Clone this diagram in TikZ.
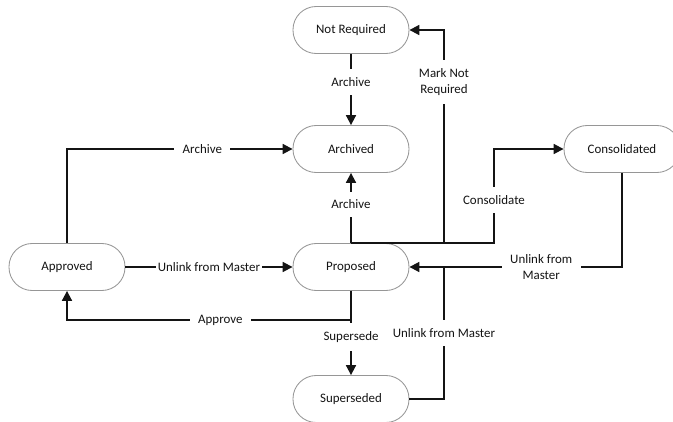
\documentclass[tikz,border=0pt]{standalone}
\usepackage{fontspec}
\setmainfont{Carlito}
\usepackage{xcolor}
\usepackage{tikz}
\usetikzlibrary{arrows.meta, positioning, calc}
\definecolor{mydark}{RGB}{20,20,20}
\definecolor{mygrey}{RGB}{150,150,150}
\tikzset{
  state/.style={rectangle, draw=mygrey, fill=white, line width=0.6pt,
    minimum width=2.9cm, minimum height=1.175cm, rounded corners=0.58cm,
    font=\fontsize{9.2}{11}\selectfont, text=mydark},
  arrow/.style={-{Triangle[length=7pt,width=7pt]}, line width=1.3pt, color=mydark},
  line/.style={line width=1.3pt, color=mydark},
  lbl/.style={fill=white, inner sep=6pt, font=\fontsize{9.2}{11}\selectfont,
    text=mydark, align=center}
}
\begin{document}
\begin{tikzpicture}[x=0.025cm, y=-0.025cm]
  \useasboundingbox (0,0) rectangle (673,422);

  % States
  \node[state] (notreq) at (351,30) {Not Required};
  \node[state] (archived) at (351,149) {Archived};
  \node[state] (proposed) at (351,267) {Proposed};
  \node[state] (superseded) at (351,399) {Superseded};
  \node[state] (approved) at (67,267) {Approved};
  \node[state] (consolidated) at (622,149) {Consolidated};

  % Junction points
  \coordinate (markx) at (444,243);
  \coordinate (consx) at (494,243);
  \coordinate (joinx) at (444,267);

  % Archive transitions
  \draw[arrow] (notreq.south) -- node[lbl, pos=0.4] {Archive} (archived.north);
  \draw[arrow] (approved.north) |- node[lbl, pos=0.8] {Archive} (archived.west);
  \draw[arrow] (proposed.north) -- node[lbl, pos=0.55] {Archive} (archived.south);

  % Approved <-> Proposed
  \draw[arrow] (approved.east) -- node[lbl, inner sep=1pt] {Unlink from Master} (proposed.west);
  \draw[arrow] (proposed.south) -- ++(0,29) -| node[lbl, pos=0.23] {Approve} (approved.south);

  % From Proposed upwards
  \draw[arrow] (proposed.north) -- (markx) |- node[lbl, pos=0.378] {Mark Not\\Required} (notreq.east);
  \draw[arrow] (proposed.north) -- (consx) |- node[lbl, pos=0.23] {Consolidate} (consolidated.west);

  % Back to Proposed
  \draw[arrow] (consolidated.south) |- node[lbl, pos=0.69] {Unlink from\\Master} (proposed.east);
  \draw[line] (superseded.east) -| node[lbl, pos=0.75] {Unlink from Master} (joinx);

  % Supersede
  \draw[arrow] (proposed.south) -- node[lbl, pos=0.55] {Supersede} (superseded.north);
\end{tikzpicture}
\end{document}
